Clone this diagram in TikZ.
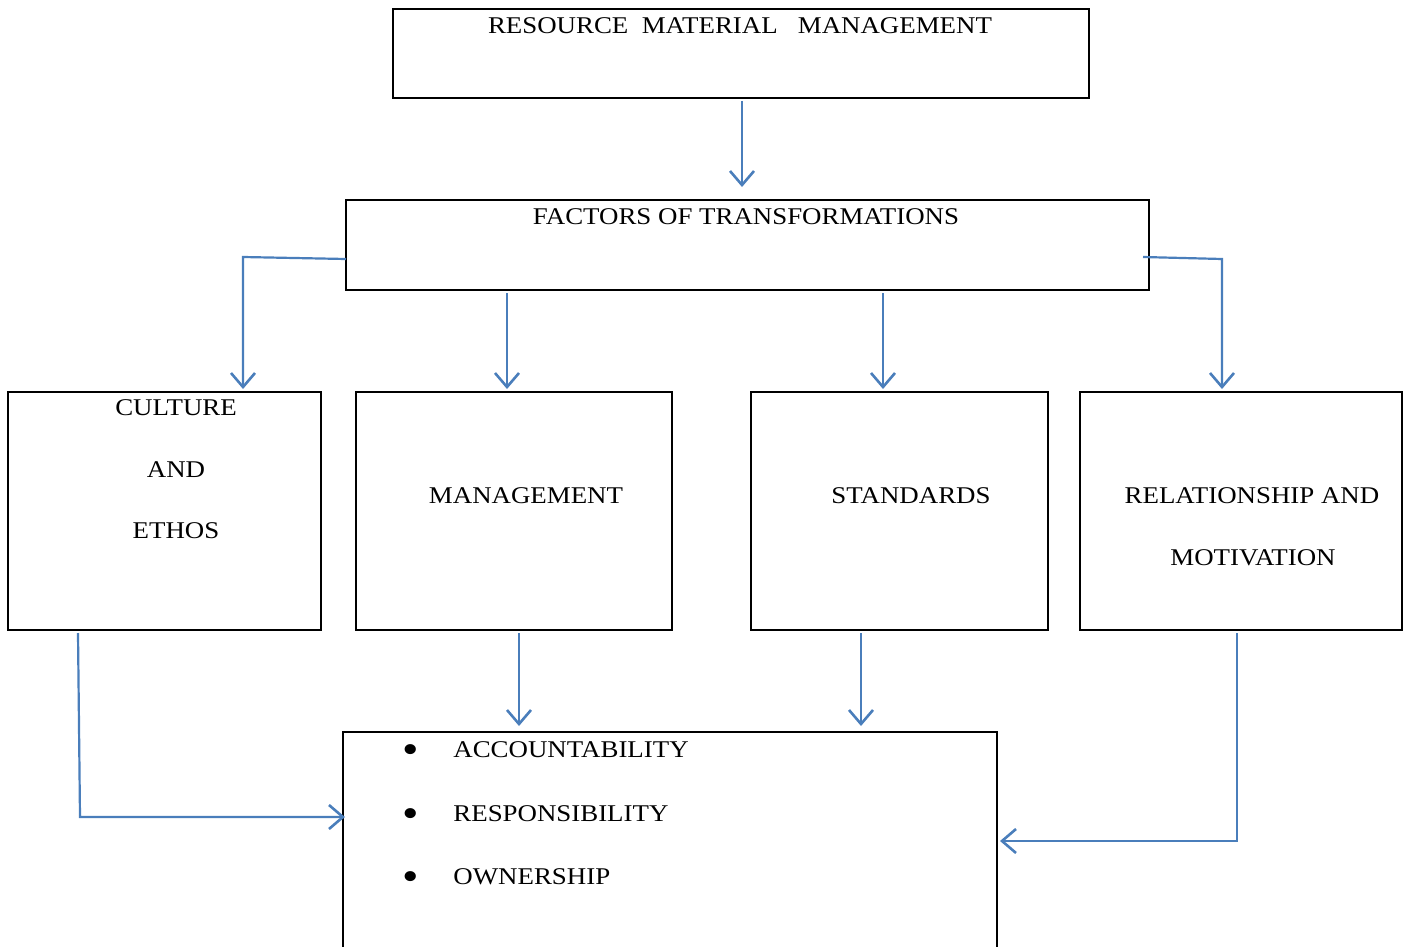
\documentclass[tikz,border=0pt]{standalone}
\usepackage{fontspec}
\setmainfont{Liberation Serif}[FakeStretch=1.12]
\usetikzlibrary{arrows.meta,calc,fit}
\definecolor{arrowblue}{RGB}{74,126,187}
\begin{document}
\begin{tikzpicture}[x=0.5pt,y=-0.5pt,
  box/.style={draw=black,line width=1.2pt,inner sep=0pt,outer sep=0pt},
  conn/.style={draw=arrowblue,line width=1.1pt,-{Straight Barb[length=7pt,width=12pt,line width=1.3pt]}},
  lbl/.style={inner sep=0pt,font=\fontsize{12}{14}\selectfont},
  bul/.style={inner sep=0pt,font=\fontsize{21}{21}\selectfont}]
\useasboundingbox (0,0) rectangle (1408,947);
\clip (0,0) rectangle (1408,947);
% boxes
\node[box,fit={(393,9) (1089,98)}] (top) {};
\node[box,fit={(346,200) (1149,290)}] (fac) {};
\node[box,fit={(8,392) (321,630)}] (cul) {};
\node[box,fit={(356,392) (672,630)}] (man) {};
\node[box,fit={(751,392) (1048,630)}] (sta) {};
\node[box,fit={(1080,392) (1402,630)}] (rel) {};
\node[box,fit={(343,732) (997,965)}] (acc) {};
% texts
\node[lbl] (ttop) at (740,26) {RESOURCE\ \ MATERIAL\ \ \ MANAGEMENT};
\node[lbl] (tfac) at (746,217) {FACTORS OF TRANSFORMATIONS};
\node[lbl] (tcul1) at (176,408) {CULTURE};
\node[lbl] (tcul2) at (176,470) {AND};
\node[lbl] (tcul3) at (176,531) {ETHOS};
\node[lbl] (tman) at (526,496) {MANAGEMENT};
\node[lbl] (tsta) at (911,496) {STANDARDS};
\node[lbl] (trel1) at (1252,496) {RELATIONSHIP AND};
\node[lbl] (trel2) at (1253,558) {MOTIVATION};
\node[bul] (b1) at (411,754) {\textbullet};
\node[bul] (b2) at (411,818) {\textbullet};
\node[bul] (b3) at (411,881) {\textbullet};
\node[lbl,anchor=west] (a1) at (453,750) {ACCOUNTABILITY};
\node[lbl,anchor=west] (a2) at (453,814) {RESPONSIBILITY};
\node[lbl,anchor=west] (a3) at (453,877) {OWNERSHIP};
% helper coordinates
\coordinate (xt) at (742,0);
\coordinate (xl) at (243,257);
\coordinate (xm) at (507,0);
\coordinate (xs) at (883,0);
\coordinate (xr) at (1222,259);
\coordinate (xm2) at (519,0);
\coordinate (xs2) at (861,0);
\coordinate (c1) at (78,0);
\coordinate (c2) at (80,817);
\coordinate (r2) at (1237,841);
% connectors
\draw[conn] ($(xt |- top.south)+(0,3)$) -- ($(xt |- fac.north)+(0,-13)$);
\draw[conn] ($(fac.west)+(0,14)$) -- (xl) -- ($(xl |- cul.north)+(0,-3)$);
\draw[conn] ($(xm |- fac.south)+(0,3)$) -- ($(xm |- man.north)+(0,-3)$);
\draw[conn] ($(xs |- fac.south)+(0,3)$) -- ($(xs |- sta.north)+(0,-3)$);
\draw[conn] ($(fac.east)+(-6,12)$) -- (xr) -- ($(xr |- rel.north)+(0,-3)$);
\draw[conn] ($(c1 |- cul.south)+(0,3)$) -- (c2) -- ($(c2 -| acc.west)+(2,0)$);
\draw[conn] ($(xm2 |- man.south)+(0,3)$) -- ($(xm2 |- acc.north)+(0,-6)$);
\draw[conn] ($(xs2 |- sta.south)+(0,3)$) -- ($(xs2 |- acc.north)+(0,-6)$);
\draw[conn] ($(r2 |- rel.south)+(0,3)$) -- (r2) -- ($(r2 -| acc.east)+(3,0)$);
\end{tikzpicture}
\end{document}
